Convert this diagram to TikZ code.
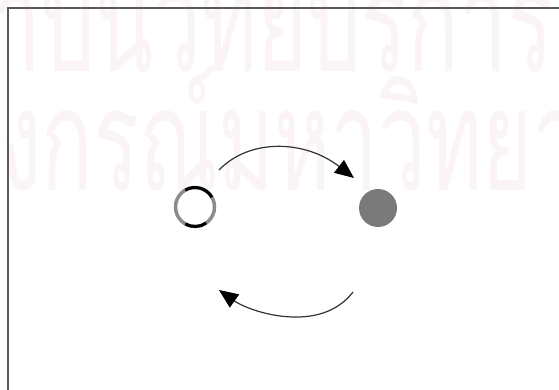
\documentclass[tikz,border=0pt]{standalone}
\usepackage{fontspec}
\newfontfamily\thaifont[Script=Thai]{Loma}
\usetikzlibrary{arrows.meta}
\definecolor{wm}{RGB}{250,243,248}
\definecolor{ringgray}{RGB}{140,140,140}
\definecolor{ballgray}{RGB}{122,122,122}
\begin{document}
\begin{tikzpicture}[x=1pt,y=-1pt,
  conn/.style={draw=black!80, line width=1.2pt, -{Triangle[length=19pt,width=16pt,color=black]}},
  wmtext/.style={text=wm, inner sep=0pt, font=\thaifont\fontsize{142}{142}\selectfont},
  ring/.style={circle, minimum size=39pt, inner sep=0pt, draw=ringgray, line width=3.5pt},
  ball/.style={circle, minimum size=38pt, inner sep=0pt, fill=ballgray},
  frame/.style={draw=black!65, line width=1.4pt}]
\useasboundingbox (0,0) rectangle (559,390);
\fill[white] (0,0) rectangle (559,390);
\begin{scope}
  \clip (0,0) rectangle (559,390);
  \node[wmtext, anchor=base east] (wm1) at (553,72) {\scalebox{0.60}[1]{\llap{สถ}าบันวิทยบริการ}};
  \node[wmtext, anchor=base west] (wm2) at (0,190) {\scalebox{0.60}[1]{\llap{จุฬาล}งกรณ์มหาวิทยา\rlap{ลัย}}};
\end{scope}
\draw[frame] (8,390) -- (8,8) -- (559,8);
\node[ring] (open) at (195,207) {};
\draw[black, line width=3pt] (open.center) ++(-120:19.5) arc[start angle=-120, end angle=-30, radius=19.5];
\draw[black, line width=3pt] (open.center) ++(120:19.5) arc[start angle=120, end angle=55, radius=19.5];
\node[ball] (full) at (378,208) {};
\coordinate (t0) at (219,170);
\coordinate (t1) at (354,178);
\coordinate (b0) at (353,292);
\coordinate (b1) at (219,290);
\draw[conn] (t0) .. controls (250,138) and (305,140) .. (t1);
\draw[conn] (b0) .. controls (320,335) and (250,312) .. (b1);
\end{tikzpicture}
\end{document}
